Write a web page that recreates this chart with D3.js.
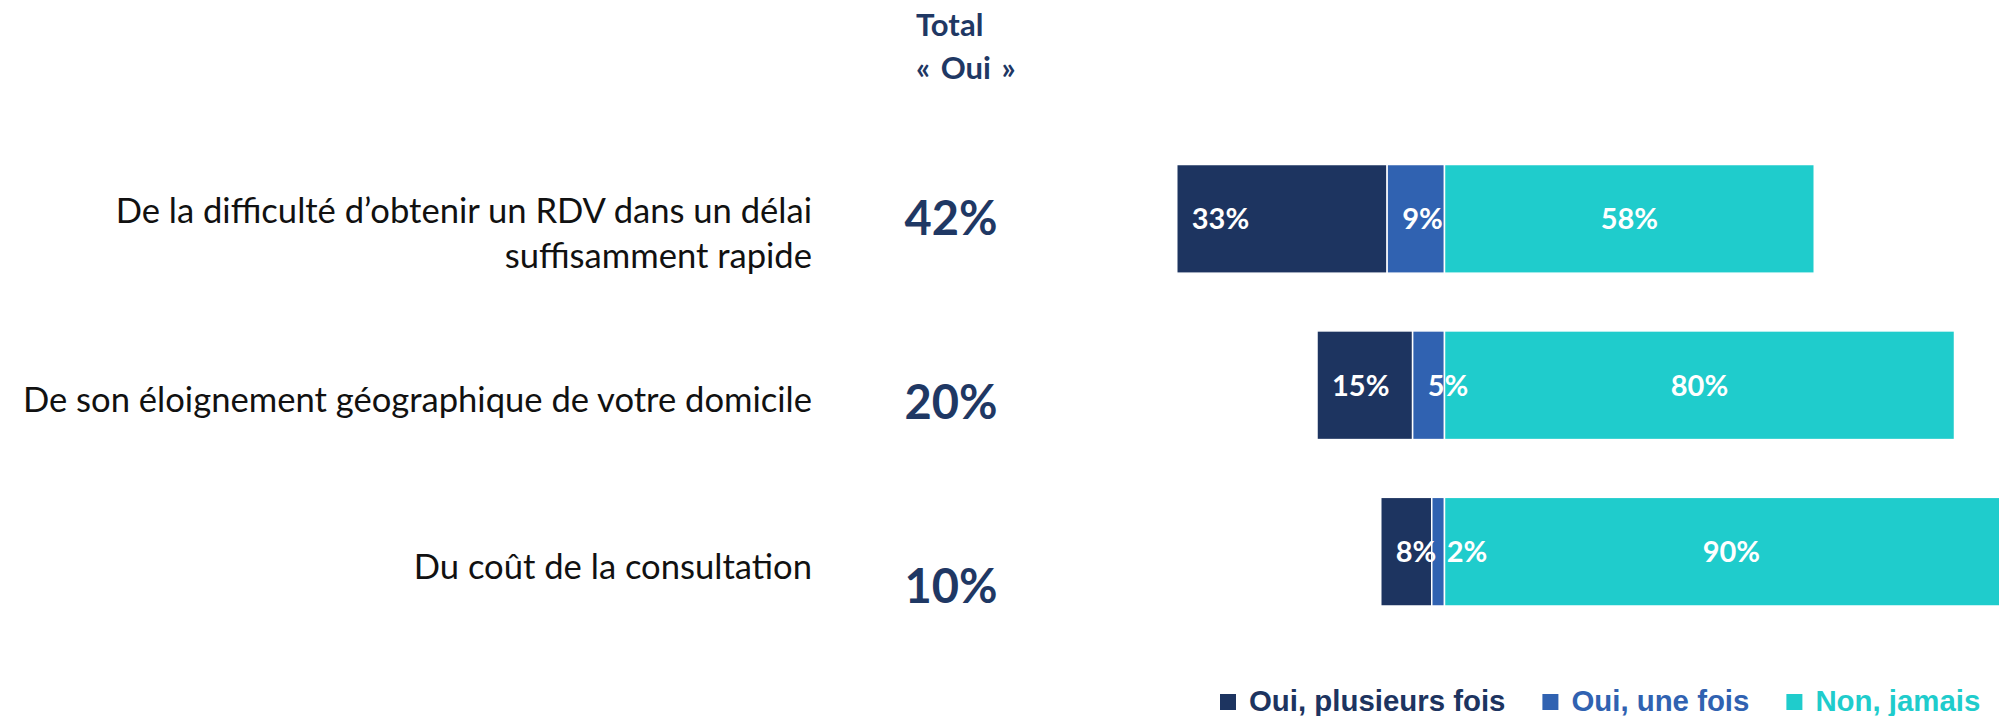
<!DOCTYPE html>
<html>
<head>
<meta charset="utf-8">
<script src="https://cdn.jsdelivr.net/npm/d3@7"></script>
<style>
  body { margin: 0; background: #fff; }
  svg { display: block; }
</style>
</head>
<body>
<svg class="chart" width="1999" height="716"></svg>
<script>
// data
var categories = [
  "De la difficulté d’obtenir un RDV dans un délai\nsuffisamment rapide",
  "De son éloignement géographique de votre domicile",
  "Du coût de la consultation"
];
var seriesNames = ["Oui, plusieurs fois", "Oui, une fois", "Non, jamais"];
var ouiPlusieurs = [33, 15, 8];
var ouiUneFois = [9, 5, 2];
var nonJamais = [58, 80, 90];
var totalOui = [42, 20, 10];
var headerLines = ["Total", "« Oui »"];

var colors = ["#1d3460", "#3062b1", "#1fcccc"];
var navy = "#1f3864";

var svg = d3.select("svg.chart");

var x = d3.scaleLinear()
    .domain([-50, 100])
    .range([1125.75, 2082]);
var y = d3.scaleBand()
    .domain(categories)
    .range([164.5, 606])
    .paddingInner(0.347)
    .paddingOuter(0);
// totals sit on their own evenly spaced grid
var yTot = d3.scalePoint()
    .domain(categories)
    .range([235, 603]);

// build stacked segments, "oui" on the left of zero
var rows = categories.map(function(c, i) {
  var p = ouiPlusieurs[i], u = ouiUneFois[i], j = nonJamais[i];
  return {
    cat: c,
    segs: [
      {key: 0, x0: -(p + u), x1: -u, v: p},
      {key: 1, x0: -u, x1: 0, v: u},
      {key: 2, x0: 0, x1: j, v: j}
    ]
  };
});

var rowG = svg.selectAll("g.row")
  .data(rows)
  .enter().append("g")
    .attr("class", "row")
    .attr("transform", function(d) { return "translate(0," + y(d.cat) + ")"; });

rowG.selectAll("rect")
  .data(function(d) { return d.segs; })
  .enter().append("rect")
    .attr("x", function(d) { return x(d.x0); })
    .attr("width", function(d) { return x(d.x1) - x(d.x0); })
    .attr("y", 0)
    .attr("height", y.bandwidth())
    .attr("fill", function(d) { return colors[d.key]; })
    .attr("stroke", "#fff")
    .attr("stroke-width", 1.5);

rowG.selectAll("text.val")
  .data(function(d) { return d.segs; })
  .enter().append("text")
    .attr("class", "val")
    .attr("x", function(d) {
      return d.key === 2 ? (x(d.x0) + x(d.x1)) / 2 : x(d.x0) + 15;
    })
    .attr("y", y.bandwidth() / 2)
    .attr("dy", "0.36em")
    .attr("text-anchor", function(d) { return d.key === 2 ? "middle" : "start"; })
    .attr("fill", "#fff")
    .style("font-family", "Lato, 'Open Sans', sans-serif")
    .style("font-weight", "bold")
    .style("font-size", "29px")
    .text(function(d) { return d.v + "%"; });

// category labels
var lab = svg.selectAll("text.cat")
  .data(categories)
  .enter().append("text")
    .attr("class", "cat")
    .attr("text-anchor", "end")
    .attr("fill", "#111")
    .style("font-family", "Lato, 'Open Sans', sans-serif")
    .style("font-size", "34.6px")
    .attr("transform", function(d) {
      var n = d.split("\n").length;
      var first = y(d) + y.bandwidth() / 2 + 15 + 12 - (n - 1) * 22.5;
      return "translate(812," + first + ")";
    });
lab.selectAll("tspan")
  .data(function(d) { return d.split("\n"); })
  .enter().append("tspan")
    .attr("x", 0)
    .attr("dy", function(d, i) { return i === 0 ? 0 : 45; })
    .text(function(d) { return d; });

// totals
svg.selectAll("text.tot")
  .data(categories)
  .enter().append("text")
    .attr("class", "tot")
    .attr("x", 951)
    .attr("y", function(d) { return yTot(d); })
    .attr("text-anchor", "middle")
    .attr("fill", navy)
    .style("font-family", "Lato, 'Open Sans', sans-serif")
    .style("font-weight", "bold")
    .style("font-size", "47px")
    .text(function(d, i) { return totalOui[i] + "%"; });

// header
svg.selectAll("text.head")
  .data(headerLines)
  .enter().append("text")
    .attr("class", "head")
    .attr("x", 916)
    .attr("y", function(d, i) { return 36 + i * 43; })
    .attr("fill", navy)
    .style("font-family", "Lato, 'Open Sans', sans-serif")
    .style("font-weight", "bold")
    .style("font-size", "31px")
    .style("word-spacing", "3px")
    .text(function(d) { return d; });

// legend
var legend = svg.append("g").attr("class", "legend");
var lx = 1220;
seriesNames.forEach(function(name, i) {
  legend.append("rect")
    .attr("x", lx).attr("y", 694)
    .attr("width", 16).attr("height", 16)
    .attr("fill", colors[i]);
  var t = legend.append("text")
    .attr("x", lx + 29).attr("y", 711)
    .attr("fill", colors[i])
    .style("font-family", "'Liberation Sans', Arial, sans-serif")
    .style("font-weight", "bold")
    .style("font-size", "29.4px")
    .text(name);
  lx = lx + 29 + t.node().getComputedTextLength() + 37;
});
</script>
</body>
</html>
